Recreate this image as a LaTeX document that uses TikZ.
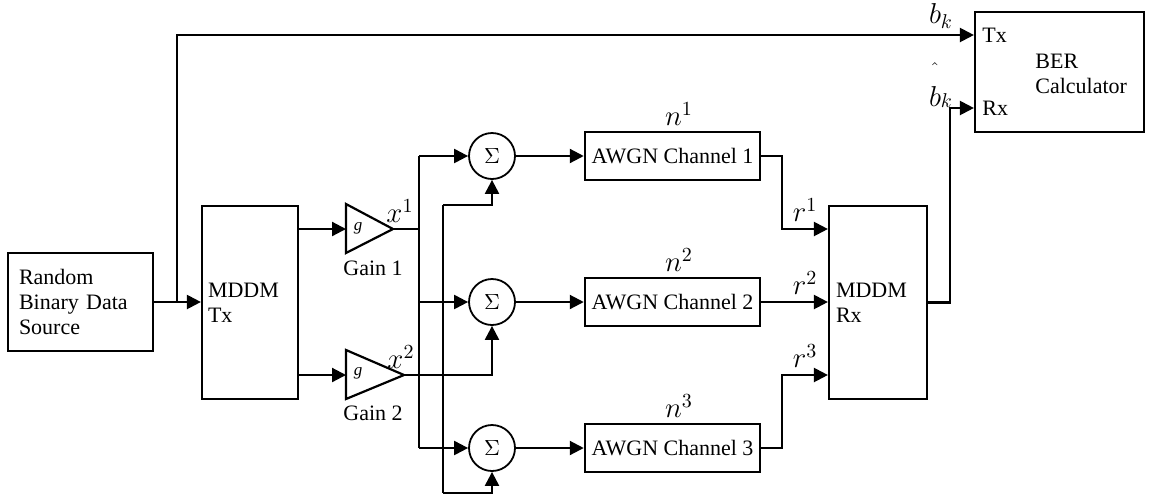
\documentclass[tikz,border=0pt]{standalone}
\usepackage{fontspec}
\setmainfont{Liberation Serif}
\usetikzlibrary{arrows.meta}
\newcommand\txtfs{\fontsize{11}{12.5}\selectfont}
\newcommand\mathfs{\fontsize{14.5}{16}\selectfont}
\begin{document}
\begin{tikzpicture}[x=0.5pt,y=-0.5pt,
  ln/.style={line width=1.1pt},
  arr/.style={line width=1.1pt,-{Triangle[length=7pt,width=7pt]}},
  blk/.style={draw,line width=1.1pt,font=\txtfs,inner ysep=0pt},
  sumnode/.style={circle,draw,line width=0.9pt,minimum size=23pt,inner sep=0pt,font=\fontsize{11}{12}\selectfont},
  tri/.style={draw,line width=1.1pt,line join=miter},
  txt/.style={font=\txtfs,inner sep=0pt},
  ml/.style={font=\mathfs,inner sep=0pt}]
\useasboundingbox (0,0) rectangle (1149,499);

% blocks
\node[blk,minimum width=72.5pt,minimum height=49pt,text width=61.5pt,inner xsep=5.5pt,align=left] (src) at (80.5,302) {Random\\Binary Data\\Source};
\node[blk,minimum height=96.5pt,text width=42pt,inner xsep=3pt,align=left] (tx) at (250,302.5) {MDDM\\Tx};
\node[blk,minimum height=96.5pt,text width=42pt,inner xsep=3.5pt,align=left] (rx) at (878,302.5) {MDDM\\Rx};
\node[blk,minimum width=84.5pt,minimum height=60pt] (ber) at (1059.5,72) {};
\node[txt,anchor=west] (bertx) at (982,35) {Tx};
\node[txt,anchor=west] (berrx) at (982,108) {Rx};
\node[txt,anchor=west,align=left] (bername) at (1035,74) {BER\\Calculator};

\node[blk,minimum width=84.5pt,minimum height=24pt] (c1) at (672.5,156) {AWGN Channel 1};
\node[blk,minimum width=84.5pt,minimum height=24pt] (c2) at (672.5,302) {AWGN Channel 2};
\node[blk,minimum width=84.5pt,minimum height=24pt] (c3) at (672.5,448) {AWGN Channel 3};

\node[sumnode] (s1) at (492,156) {$\Sigma$};
\node[sumnode] (s2) at (492,302) {$\Sigma$};
\node[sumnode] (s3) at (492,448) {$\Sigma$};

% gains
\coordinate (g1in) at (346,229);
\coordinate (g1tip) at (393,229);
\coordinate (g2in) at (346,375);
\coordinate (g2tip) at (404,375);
\draw[tri] (346,204) -- (g1tip) -- (346,253) -- cycle;
\draw[tri] (346,350) -- (g2tip) -- (346,399) -- cycle;
\node[font=\fontsize{8.5}{9}\selectfont\itshape,inner sep=0pt] (gg1) at (358,228) {g};
\node[font=\fontsize{8.5}{9}\selectfont\itshape,inner sep=0pt] (gg2) at (358,373) {g};
\node[txt] (lg1) at (373,268) {Gain 1};
\node[txt] (lg2) at (373,413) {Gain 2};

% source connections
\coordinate (br) at (177,35);
\draw[arr] (src.east) -- (src.east -| tx.west);
\draw[arr] (src.east -| br) -- (br) -- (br -| ber.west);

% Tx to gains
\draw[arr] (g1in -| tx.east) -- (g1in);
\draw[arr] (g2in -| tx.east) -- (g2in);

% x1 bus
\coordinate (j1) at (419,229);
\draw[ln] (g1tip) -- (j1);
\draw[ln] (j1 |- s1) -- (j1 |- s3);
\draw[arr] (j1 |- s1) -- (s1.west);
\draw[arr] (j1 |- s2) -- (s2.west);
\draw[arr] (j1 |- s3) -- (s3.west);

% x2 bus
\coordinate (j2) at (443,205);
\coordinate (j3) at (443,493);
\draw[arr] (g2tip) -| (s2.south);
\draw[ln] (j2) -- (j3);
\draw[arr] (j2) -| (s1.south);
\draw[arr] (j3) -| (s3.south);

% sums to channels
\draw[arr] (s1.east) -- (c1.west);
\draw[arr] (s2.east) -- (c2.west);
\draw[arr] (s3.east) -- (c3.west);

% channels to Rx
\coordinate (k1) at (782,229);
\coordinate (k3) at (782,375);
\draw[arr] (c1.east) -| (k1) -- (k1 -| rx.west);
\draw[arr] (c2.east) -- (c2.east -| rx.west);
\draw[arr] (c3.east) -| (k3) -- (k3 -| rx.west);

% Rx to BER
\coordinate (k4) at (950,108);
\draw[arr] (rx.east) -| (k4) -- (k4 -| ber.west);

% math labels
\node[ml] (lx1) at (400,211) {$x^{1}$};
\node[ml] (lx2) at (401,357) {$x^{2}$};
\node[ml] (ln1) at (679,114) {$n^{1}$};
\node[ml] (ln2) at (679,260) {$n^{2}$};
\node[ml] (ln3) at (679,406) {$n^{3}$};
\node[ml] (lr1) at (805,210) {$r^{1}$};
\node[ml] (lr2) at (805,283) {$r^{2}$};
\node[ml] (lr3) at (805,356) {$r^{3}$};
\node[ml] (lbk) at (941,16) {$b_{k}$};
\node[ml] (lbh) at (941,84) {$\stackrel{\raisebox{3pt}{$\scriptstyle\hat{}$}}{b}_{k}$};
\end{tikzpicture}
\end{document}
